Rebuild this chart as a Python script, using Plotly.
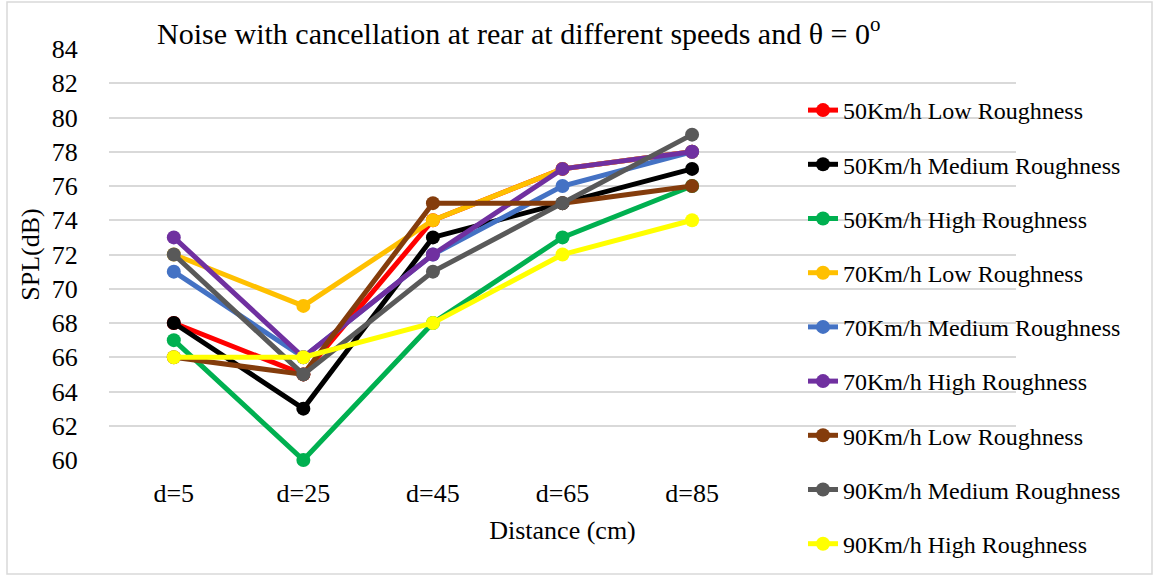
import plotly.graph_objects as go

# Measurement positions (cm from source) and SPL readings per speed/roughness case
distances = ["d=5", "d=25", "d=45", "d=65", "d=85"]

spl_50_low = [68, 65, 74, 77, 78]
spl_50_medium = [68, 63, 73, 75, 77]
spl_50_high = [67, 60, 68, 73, 76]
spl_70_low = [72, 69, 74, 77, 78]
spl_70_medium = [71, 66, 72, 76, 78]
spl_70_high = [73, 66, 72, 77, 78]
spl_90_low = [66, 65, 75, 75, 76]
spl_90_medium = [72, 65, 71, 75, 79]
spl_90_high = [66, 66, 68, 72, 74]

series = [
    ("50Km/h Low Roughness", spl_50_low, "#ff0000"),
    ("50Km/h Medium Roughness", spl_50_medium, "#000000"),
    ("50Km/h High Roughness", spl_50_high, "#00b050"),
    ("70Km/h Low Roughness", spl_70_low, "#ffc000"),
    ("70Km/h Medium Roughness", spl_70_medium, "#4472c4"),
    ("70Km/h High Roughness", spl_70_high, "#7030a0"),
    ("90Km/h Low Roughness", spl_90_low, "#843c0c"),
    ("90Km/h Medium Roughness", spl_90_medium, "#595959"),
    ("90Km/h High Roughness", spl_90_high, "#ffff00"),
]

FONT = "Liberation Serif, Times New Roman, serif"
positions = list(range(len(distances)))

fig = go.Figure()
for name, values, color in series:
    fig.add_trace(go.Scatter(
        x=positions, y=values, name=name, mode="lines+markers",
        line=dict(color=color, width=5),
        marker=dict(color=color, size=14),
        legendgroup=name,
        cliponaxis=False,
    ))

# Plot area spans x 109..1016 and y 49..460 in a 1156x578 page
L, R, T, B = 109, 140, 49, 118
W, H = 1156, 578
pw, ph = W - L - R, H - T - B

def px(x):
    return (x - L) / pw

def py(y):
    return (H - B - y) / ph

fig.update_layout(
    width=W, height=H,
    margin=dict(l=L, r=R, t=T, b=B, autoexpand=False),
    paper_bgcolor="white", plot_bgcolor="white",
    font=dict(family=FONT, color="#000000"),
    title=dict(
        text="Noise with cancellation at rear at different speeds and θ = 0<sup>o</sup>",
        font=dict(family=FONT, size=30, color="#000000"),
        x=157 / W, xanchor="left", y=1 - 33 / H, yanchor="middle",
    ),
    xaxis=dict(
        range=[-0.5, 6.5], tickvals=positions, ticktext=distances,
        showgrid=False, zeroline=False, showline=False,
        ticks="outside", ticklen=10, tickcolor="rgba(0,0,0,0)",
        tickfont=dict(family=FONT, size=26),
        title=dict(text="Distance (cm)", font=dict(family=FONT, size=26), standoff=13),
    ),
    yaxis=dict(
        range=[60, 84], dtick=2, tick0=60,
        showgrid=True, gridcolor="#d9d9d9", gridwidth=1.5,
        zeroline=False, showline=False,
        ticks="outside", ticklen=25, tickcolor="rgba(0,0,0,0)",
        tickfont=dict(family=FONT, size=26),
        title=dict(text="SPL(dB)", font=dict(family=FONT, size=26), standoff=4),
    ),
    legend=dict(
        xref="container", yref="container",
        x=803 / W, xanchor="left", y=1 - 88 / H, yanchor="top",
        bgcolor="rgba(0,0,0,0)",
        font=dict(family=FONT, size=24),
        tracegroupgap=20,
        itemwidth=30,
        maxheight=600,
    ),
    shapes=[dict(
        type="rect", xref="paper", yref="paper",
        x0=px(7), x1=px(1152), y0=py(574), y1=py(2),
        line=dict(color="#d9d9d9", width=1.5), fillcolor="rgba(0,0,0,0)",
        layer="below",
    )],
)

fig.write_html("out.html")
